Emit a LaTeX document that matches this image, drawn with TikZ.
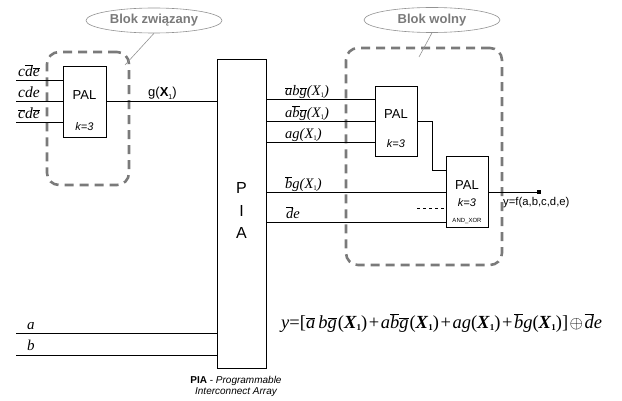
\documentclass[tikz,border=0pt]{standalone}
\usepackage{fontspec}
\setmainfont{Liberation Serif}
\setsansfont{Liberation Sans}
\usetikzlibrary{shapes.geometric,calc}
\newcommand\ovl[1]{\ensuremath{\overline{\mbox{\itshape #1}}}}
\newcommand\Xs{\textit{X}\raisebox{-0.3ex}{\upshape\scriptsize 1}}
\newcommand\Xbold{\textbf{\textit{X}\raisebox{-0.25ex}{\upshape\small 1}}}
\newcommand\pl{\kern1.5pt+\kern1.5pt}
\definecolor{blkgray}{RGB}{122,122,122}
\begin{document}
\begin{tikzpicture}[x=1pt,y=-1pt,
  wire/.style={line width=0.8pt,black},
  palbox/.style={draw,line width=0.8pt,minimum width=42pt,minimum height=71pt,inner sep=0pt},
  blkbox/.style={draw=blkgray,line width=2.6pt,dash pattern=on 9pt off 6pt,rounded corners=12pt,inner sep=0pt},
  callout/.style={ellipse,draw=gray!85,line width=0.6pt,minimum width=136pt,minimum height=25pt,inner sep=0pt,
     text=blkgray,font=\sffamily\bfseries\fontsize{13}{15}\selectfont},
  calline/.style={draw=gray!85,line width=0.6pt},
  lbl/.style={inner sep=0pt,anchor=base west,font=\itshape\fontsize{14.5}{16}\selectfont},
  sanslbl/.style={inner sep=0pt,font=\sffamily\fontsize{13}{15}\selectfont}
]
\useasboundingbox (0,0) rectangle (622,401);

% dashed blocks
\node[blkbox,minimum width=82pt,minimum height=133pt] (blk1) at (88,118.5) {};
\node[blkbox,minimum width=156pt,minimum height=217pt] (blk2) at (424,156.5) {};

% callouts
\node[callout] (ell1) at (154,20.5) {Blok związany};
\node[callout] (ell2) at (432,20) {Blok wolny};
\coordinate (c1) at (125,65);
\coordinate (c2) at (419,57);
\draw[calline] (ell1.south) -- (c1);
\draw[calline] (ell2.south) -- (c2);

% boxes
\node[palbox,minimum width=43pt] (pal0) at (84.5,101.5) {};
\node[palbox,minimum width=49pt,minimum height=309pt] (pia) at (241.5,213.5) {};
\node[palbox,minimum height=70pt] (pal1) at (396,121) {};
\node[palbox] (pal2) at (467,191.5) {};

% box texts
\node[sanslbl] (t0) at (84.5,95) {PAL};
\node[sanslbl,font=\sffamily\itshape\fontsize{11}{13}\selectfont] (k0) at (84.5,127) {k=3};
\node[sanslbl] (t1) at (396,114) {PAL};
\node[sanslbl,font=\sffamily\itshape\fontsize{11}{13}\selectfont] (k1) at (396,144) {k=3};
\node[sanslbl] (t2) at (467,185) {PAL};
\node[sanslbl,font=\sffamily\itshape\fontsize{11}{13}\selectfont] (k2) at (467,203) {k=3};
\node[sanslbl,font=\sffamily\fontsize{6}{7}\selectfont] (ax) at (467,221) {AND\_XOR};
\node[sanslbl,font=\sffamily\fontsize{16}{18}\selectfont] (pP) at (241.5,188) {P};
\node[sanslbl,font=\sffamily\fontsize{16}{18}\selectfont] (pI) at (241.5,211) {I};
\node[sanslbl,font=\sffamily\fontsize{16}{18}\selectfont] (pA) at (241.5,233) {A};

% left inputs
\coordinate (i1) at (16,80);
\coordinate (i2) at (16,101);
\coordinate (i3) at (16,122);
\draw[wire] (i1) -- (pal0.west |- i1);
\draw[wire] (i2) -- (pal0.west |- i2);
\draw[wire] (i3) -- (pal0.west |- i3);
\node[lbl,font=\itshape\fontsize{15.5}{17}\selectfont] (l1) at (18,77) {c\ovl{d}\ovl{e}};
\node[lbl,font=\itshape\fontsize{15.5}{17}\selectfont] (l2) at (18,98) {cde};
\node[lbl,font=\itshape\fontsize{15.5}{17}\selectfont] (l3) at (18,119) {\ovl{c}d\ovl{e}};

% g(X1)
\draw[wire] (pal0.east |- i2) -- (pia.west |- i2);
\node[sanslbl,anchor=base west] (gx) at (148,97) {g(\textbf{X}\raisebox{-0.35ex}{\scriptsize 1})};

% PIA outputs
\coordinate (o1) at (300,99);
\coordinate (o2) at (300,121);
\coordinate (o3) at (300,142);
\coordinate (o4) at (300,192);
\coordinate (o5) at (300,222);
\draw[wire] (pia.east |- o1) -- (pal1.west |- o1);
\draw[wire] (pia.east |- o2) -- (pal1.west |- o2);
\draw[wire] (pia.east |- o3) -- (pal1.west |- o3);
\draw[wire] (pia.east |- o4) -- (pal2.west |- o4);
\draw[wire] (pia.east |- o5) -- (pal2.west |- o5);
\node[lbl] (m1) at (285,96) {\ovl{a}b\ovl{g}(\Xs)};
\node[lbl] (m2) at (285,118) {a\ovl{b}\ovl{g}(\Xs)};
\node[lbl] (m3) at (285,139) {ag(\Xs)};
\node[lbl] (m4) at (285,189) {\ovl{b}g(\Xs)};
\node[lbl] (m5) at (286,219) {\ovl{d}e};

% PAL1 -> PAL2
\coordinate (bend) at (432,170);
\draw[wire] (pal1.east |- o2) -| (bend) -- (pal2.west |- bend);
% dashed stub
\coordinate (ds) at (417,208);
\draw[wire,dashed] (ds) -- (pal2.west |- ds);
% output
\coordinate (yo) at (539,192);
\draw[wire] (pal2.east |- yo) -- (yo);
\node[fill=black,inner sep=0pt,minimum size=4pt] (sq) at (yo) {};
\node[sanslbl,anchor=west,font=\sffamily\fontsize{11.3}{13}\selectfont] (yf) at (503,203) {y=f(a,b,c,d,e)};

% a, b inputs
\coordinate (ia) at (16,333);
\coordinate (ib) at (16,355);
\draw[wire] (ia) -- (pia.west |- ia);
\draw[wire] (ib) -- (pia.west |- ib);
\node[lbl,font=\itshape\fontsize{15}{17}\selectfont] (la) at (27,330) {a};
\node[lbl,font=\itshape\fontsize{15}{17}\selectfont] (lb) at (27,350) {b};

% caption
\node[sanslbl,font=\sffamily\fontsize{10}{12}\selectfont] (cap1) at (236,381) {\textbf{PIA} - \textit{Programmable}};
\node[sanslbl,font=\sffamily\itshape\fontsize{10}{12}\selectfont] (cap2) at (236,392.5) {Interconnect Array};

% equation
\node[inner sep=0pt,anchor=west,font=\fontsize{18.5}{20}\selectfont] (eq) at (281,323)
 {\textit{y}=[\ovl{a}\,\textit{b}\ovl{g}\kern1pt(\Xbold)\pl\textit{a}\ovl{b}\ovl{g}\kern1pt(\Xbold)\pl\textit{ag}(\Xbold)\pl\ovl{b}\textit{g}(\Xbold)]\kern1.5pt$\oplus$\kern1.5pt\ovl{d}\textit{e}};
\end{tikzpicture}
\end{document}
